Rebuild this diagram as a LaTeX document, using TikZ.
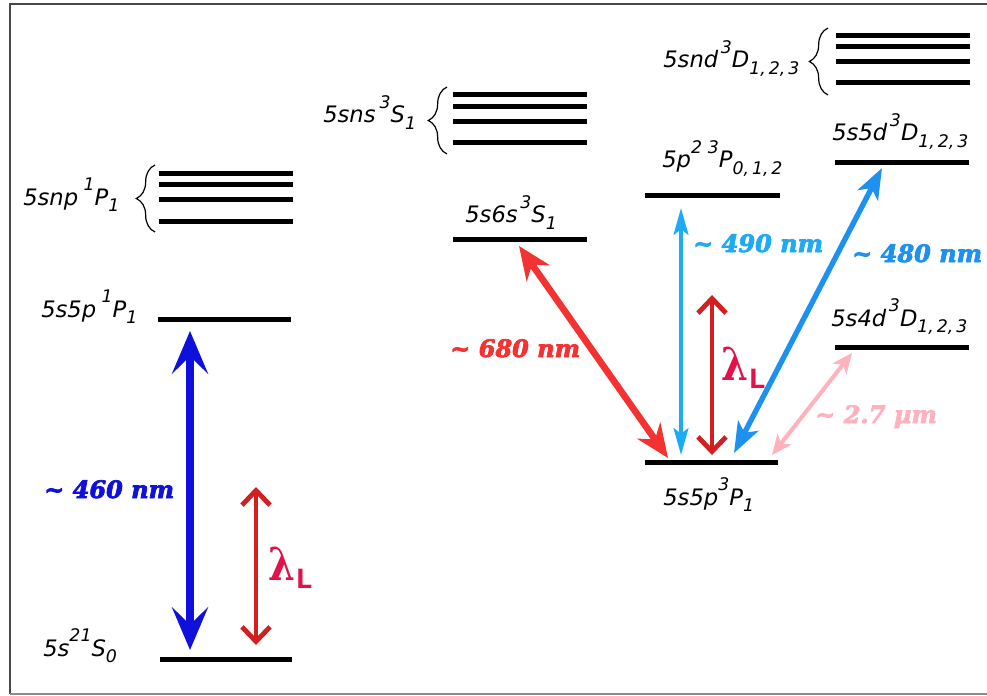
\documentclass[tikz,border=0pt]{standalone}
\usepackage{fontspec}
\usetikzlibrary{arrows.meta,decorations.pathreplacing}
\setmainfont{DejaVu Sans}
\newfontfamily\arfont{DejaVu Serif Bold Italic}[FakeBold=3]
\newfontfamily\lamfont{DejaVu Serif}
\newfontfamily\lmono{Liberation Mono}
\definecolor{cA}{RGB}{16,16,220}
\definecolor{cR}{RGB}{210,32,32}
\definecolor{cLam}{RGB}{228,16,72}
\definecolor{cO}{RGB}{245,50,50}
\definecolor{cC}{RGB}{30,170,245}
\definecolor{cE}{RGB}{30,144,240}
\definecolor{cP}{RGB}{255,178,190}
\definecolor{frD}{RGB}{72,72,72}
\definecolor{frL}{RGB}{140,140,140}
\newcommand{\Up}[1]{\raisebox{11pt}{\fontsize{13}{14}\selectfont #1}}
\newcommand{\Dn}[1]{\raisebox{-5pt}{\fontsize{13}{14}\selectfont #1}}
\newcommand{\lamL}{\scalebox{0.85}[1]{\lamfont\bfseries\fontsize{34}{36}\selectfont λ}\raisebox{-6pt}{\lmono\bfseries\fontsize{22}{24}\selectfont L}}
\tikzset{
  lev/.style={line width=3.75pt},
  lbl/.style={anchor=base west, inner sep=0pt, font=\fontsize{17}{18}\selectfont\itshape},
  alab/.style={anchor=base west, inner sep=0pt, font=\arfont\fontsize{18}{20}\selectfont},
  brc/.style={decorate, decoration={brace, amplitude=14pt}, line width=0.9pt},
  aA/.style={draw=cA, line width=6pt, {Stealth[length=32pt,width=27pt,inset=13pt]}-{Stealth[length=32pt,width=27pt,inset=13pt]}},
  aR/.style={draw=cR, line width=3.6pt, {Straight Barb[length=11pt,width=21pt]}-{Straight Barb[length=11pt,width=21pt]}},
  aO/.style={draw=cO, line width=5pt, {Stealth[length=25pt,width=21pt,inset=8pt]}-{Stealth[length=25pt,width=21pt,inset=8pt]}},
  aC/.style={draw=cC, line width=3pt, {Stealth[length=20pt,width=11pt,inset=4pt]}-{Stealth[length=20pt,width=11pt,inset=4pt]}},
  aE/.style={draw=cE, line width=4pt, {Stealth[length=23pt,width=17pt,inset=6pt]}-{Stealth[length=23pt,width=17pt,inset=6pt]}},
  aP/.style={draw=cP, line width=3pt, {Stealth[length=15pt,width=13pt,inset=4pt]}-{Stealth[length=15pt,width=13pt,inset=4pt]}},
}
\begin{document}
\begin{tikzpicture}[x=0.75pt,y=-0.75pt]
\useasboundingbox (0,0) rectangle (987,695);
\fill[white] (0,0) rectangle (987,695);
% frame
\draw[line width=1.5pt, frD] (987,4) -- (9.5,4) -- (9.5,693.5);
\draw[line width=1.5pt, frL] (9.5,693.5) -- (987,693.5);
% left column levels
\draw[lev] (160,659) -- (292,659);
\draw[lev] (158,319) -- (291,319);
\foreach \yy in {174,185,200,221} \draw[lev] (159,\yy) -- (293,\yy);
\draw[brc] (155,232) -- (155,165);
% middle levels
\foreach \yy in {95,107,122,143} \draw[lev] (453,\yy) -- (587,\yy);
\draw[brc] (447,154) -- (447,87);
\draw[lev] (453,239) -- (587,239);
% right levels
\foreach \yy in {36,47,62,83} \draw[lev] (836,\yy) -- (970,\yy);
\draw[brc] (828,95) -- (828,28);
\draw[lev] (835,163) -- (969,163);
\draw[lev] (645,196) -- (780,196);
\draw[lev] (835,347) -- (969,347);
\draw[lev] (645,462) -- (778,462);
% level labels
\node[lbl] (t1) at (23,205) {5snp\hspace{4pt}\Up{1}P\Dn{1}};
\node[lbl] (t2) at (41,317) {5s5p\hspace{4pt}\Up{1}P\Dn{1}};
\node[lbl] (t3) at (43,656) {5s\Up{21}S\Dn{0}};
\node[lbl] (t4) at (323,123) {5sns\hspace{3pt}\Up{3}S\Dn{1}};
\node[lbl] (t5) at (465,223) {5s6s\hspace{2pt}\Up{3}S\Dn{1}};
\node[lbl] (t6) at (663,68) {5snd\hspace{2pt}\Up{3}D\Dn{1,\,2,\,3}};
\node[lbl] (t7) at (832,141) {5s5d\hspace{2pt}\Up{3}D\Dn{1,\,2,\,3}};
\node[lbl] (t8) at (662,168) {5p\Up{2\,\,3}P\Dn{0,\,1,\,2}};
\node[lbl] (t9) at (831,326) {5s4d\hspace{2pt}\Up{3}D\Dn{1,\,2,\,3}};
\node[lbl] (t10) at (663,505) {5s5p\Up{3}P\Dn{1}};
% arrow end points
\coordinate (b1) at (190,331); \coordinate (b2) at (190,650);
\coordinate (r1) at (256,487); \coordinate (r2) at (256,645);
\coordinate (o1) at (519,246); \coordinate (o2) at (668,458);
\coordinate (c1) at (681,208); \coordinate (c2) at (681,455);
\coordinate (d1) at (712,295); \coordinate (d2) at (712,455);
\coordinate (e1) at (882,168); \coordinate (e2) at (734,453);
\coordinate (p1) at (852,353); \coordinate (p2) at (772,455);
% arrows
\draw[aA] (b1) -- (b2);
\draw[aR] (r1) -- (r2);
\draw[aO] (o1) -- (o2);
\draw[aC] (c1) -- (c2);
\draw[aR] (d1) -- (d2);
\draw[aE] (e1) -- (e2);
\draw[aP] (p1) -- (p2);
% arrow labels
\node[alab, text=cA] (l460) at (44,498) {\textasciitilde{} 460 nm};
\node[alab, text=cO] (l680) at (450,357) {\textasciitilde{} 680 nm};
\node[alab, text=cC] (l490) at (693,252) {\textasciitilde{} 490 nm};
\node[alab, text=cE] (l480) at (852,262) {\textasciitilde{} 480 nm};
\node[alab, text=cP] (l27) at (815,423) {\textasciitilde{} 2.7 µm};
\node[anchor=base west, inner sep=0pt, text=cLam] (lam1) at (268,580) {\lamL};
\node[anchor=base west, inner sep=0pt, text=cLam] (lam2) at (721,380) {\lamL};
\end{tikzpicture}
\end{document}
